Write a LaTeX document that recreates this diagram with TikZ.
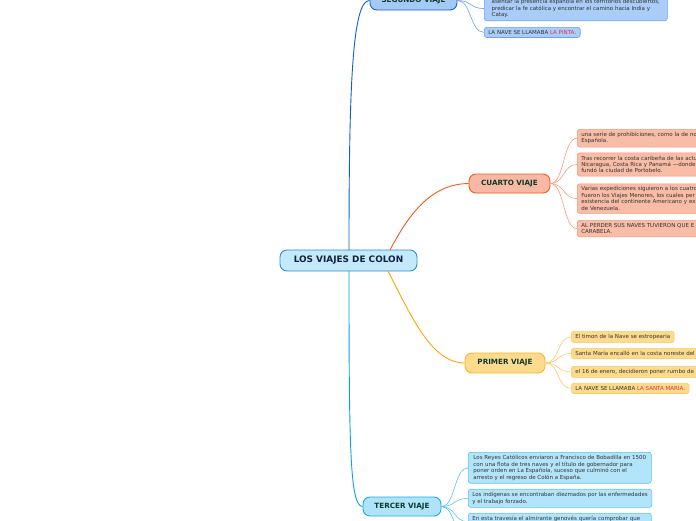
\documentclass[tikz,border=0pt]{standalone}
\usepackage{fontspec}
\setmainfont{DejaVu Sans}
\usetikzlibrary{calc}
\definecolor{txtmain}{HTML}{0E3B2C}
\definecolor{txtleaf}{HTML}{333333}
\definecolor{cfill}{HTML}{C3E9FB}\definecolor{cdraw}{HTML}{2A8FD8}
\definecolor{sfill}{HTML}{A3C9F5}\definecolor{sdraw}{HTML}{1A62C8}\definecolor{slfill}{HTML}{A9CDF8}\definecolor{sldraw}{HTML}{6AA3EA}\definecolor{sline}{HTML}{0F5FC8}
\definecolor{kfill}{HTML}{F8B9A4}\definecolor{kdraw}{HTML}{F25A25}\definecolor{klfill}{HTML}{F8BCA7}\definecolor{kldraw}{HTML}{F59C80}
\definecolor{pfill}{HTML}{FDDA8C}\definecolor{pdraw}{HTML}{F7B52C}\definecolor{plfill}{HTML}{FDDA8C}\definecolor{pldraw}{HTML}{F8CC70}\definecolor{pline}{HTML}{F9A800}
\definecolor{tfill}{HTML}{AEE3F8}\definecolor{tdraw}{HTML}{22AAE5}\definecolor{tlfill}{HTML}{B3E5FA}\definecolor{tldraw}{HTML}{5BC3EE}\definecolor{tline}{HTML}{0AA0E0}
\definecolor{redtxt}{HTML}{E0304A}
\definecolor{ctxt}{HTML}{12213F}
\tikzset{
  mainnode/.style={draw, line width=0.9pt, rounded corners=7pt, text=txtmain, font=\fontsize{7.2}{8.6}\selectfont\bfseries, inner sep=2pt},
  leaf/.style={draw, line width=0.6pt, rounded corners=2.5pt, text=txtleaf, font=\fontsize{5.5}{6.45}\selectfont, inner xsep=4pt, inner ysep=3pt, align=left, anchor=north west},
  conn/.style={line width=0.6pt}
}
\begin{document}
\begin{tikzpicture}[x=1pt,y=-1pt]
\useasboundingbox (0,0) rectangle (696,520);
\clip (0,0) rectangle (696,520);
\fill[white] (0,0) rectangle (696,520);
% main nodes
\node[mainnode, fill=cfill, draw=cdraw, text=ctxt, minimum width=137pt, minimum height=21pt, font=\fontsize{8.9}{10}\selectfont\bfseries] (c) at (348.5,260.5) {LOS VIAJES DE COLON};
\node[mainnode, fill=sfill, draw=sdraw, minimum width=87pt, minimum height=19pt] (s) at (413.5,0.5) {SEGUNDO VIAJE};
\node[mainnode, fill=kfill, draw=kdraw, minimum width=81pt, minimum height=19pt] (k) at (509.5,183.5) {CUARTO VIAJE};
\node[mainnode, fill=pfill, draw=pdraw, minimum width=80pt, minimum height=20pt] (p) at (505,363) {PRIMER VIAJE};
\node[mainnode, fill=tfill, draw=tdraw, minimum width=78pt, minimum height=19pt] (t) at (402,506.5) {TERCER VIAJE};
% main connectors
\coordinate (cs) at (349,250);
\coordinate (ck) at (390,250);
\coordinate (cp) at (388,271);
\coordinate (ct) at (349,271);
\draw[sline, line width=0.9pt] (cs) .. controls (349,90) and (352,0) .. (s.west);
\draw[kdraw, line width=0.9pt] (ck) .. controls (410,212) and (432,184) .. (k.west);
\draw[pline, line width=0.9pt] (cp) .. controls (412,318) and (432,363) .. (p.west);
\draw[tline, line width=0.9pt] (ct) .. controls (349,450) and (350,506) .. (t.west);
% segundo leaves
\node[leaf, fill=slfill, draw=sldraw, anchor=south west, minimum width=183pt] (s1) at (484,21) {asentar la presencia española en los territorios descubiertos,\\ predicar la fe católica y encontrar el camino hacia India y\\ Catay.};
\node[leaf, fill=slfill, draw=sldraw] (s2) at (484,27) {LA NAVE SE LLAMABA \textcolor{redtxt}{LA PINTA}.};
% cuarto leaves
\node[leaf, fill=klfill, draw=kldraw, text width=200pt] (k1) at (577,129) {una serie de prohibiciones, como la de no\\ Española.};
\node[leaf, fill=klfill, draw=kldraw, text width=200pt] (k2) at (577,152.5) {Tras recorrer la costa caribeña de las actu\\ Nicaragua, Costa Rica y Panamá ---donde\\ fundó la ciudad de Portobelo.};
\node[leaf, fill=klfill, draw=kldraw, text width=200pt] (k3) at (577,183.5) {Varias expediciones siguieron a los cuatro\\ Fueron los Viajes Menores, los cuales per\\ existencia del continente Americano y exp\\ de Venezuela.};
\node[leaf, fill=klfill, draw=kldraw, text width=200pt] (k4) at (577,220) {AL PERDER SUS NAVES TUVIERON QUE E\\ CARABELA.};
% primer leaves
\node[leaf, fill=plfill, draw=pldraw] (p1) at (571,331) {El timon de la Nave se estropearia};
\node[leaf, fill=plfill, draw=pldraw, text width=200pt] (p2) at (571,348) {Santa María encalló en la costa noreste del};
\node[leaf, fill=plfill, draw=pldraw, text width=200pt] (p3) at (571,366) {el 16 de enero, decidieron poner rumbo de};
\node[leaf, fill=plfill, draw=pldraw] (p4) at (571,383) {LA NAVE SE LLAMABA \textcolor{redtxt}{LA SANTA MARIA}.};
% tercer leaves
\node[leaf, fill=tlfill, draw=tldraw, minimum width=183pt] (t1) at (468,452) {Los Reyes Católicos enviaron a Francisco de Bobadilla en 1500\\ con una flota de tres naves y el título de gobernador para\\ poner orden en La Española, suceso que culminó con el\\ arresto y el regreso de Colón a España.};
\node[leaf, fill=tlfill, draw=tldraw, minimum width=183pt] (t2) at (468,489) {Los indígenas se encontraban diezmados por las enfermedades\\ y el trabajo forzado.};
\node[leaf, fill=tlfill, draw=tldraw, text width=175pt] (t3) at (468,513) {En esta travesía el almirante genovés quería comprobar que\\ \phantom{x}};
\coordinate (tdown) at (468,540);
% leaf connectors
\foreach \lf in {s1,s2}{\draw[conn, sldraw] (s.east) .. controls ($(s.east)+(14,0)$) and ($(\lf.west)+(-14,0)$) .. (\lf.west);}
\foreach \lf in {k1,k2,k3,k4}{\draw[conn, kldraw] (k.east) .. controls ($(k.east)+(14,0)$) and ($(\lf.west)+(-14,0)$) .. (\lf.west);}
\foreach \lf in {p1,p2,p3,p4}{\draw[conn, pldraw] (p.east) .. controls ($(p.east)+(14,0)$) and ($(\lf.west)+(-14,0)$) .. (\lf.west);}
\foreach \lf in {t1,t2,t3}{\draw[conn, tldraw] (t.east) .. controls ($(t.east)+(14,0)$) and ($(\lf.west)+(-14,0)$) .. (\lf.west);}
\draw[conn, tldraw] (t.east) .. controls ($(t.east)+(14,0)$) and ($(tdown)+(-14,0)$) .. (tdown);
\end{tikzpicture}
\end{document}
